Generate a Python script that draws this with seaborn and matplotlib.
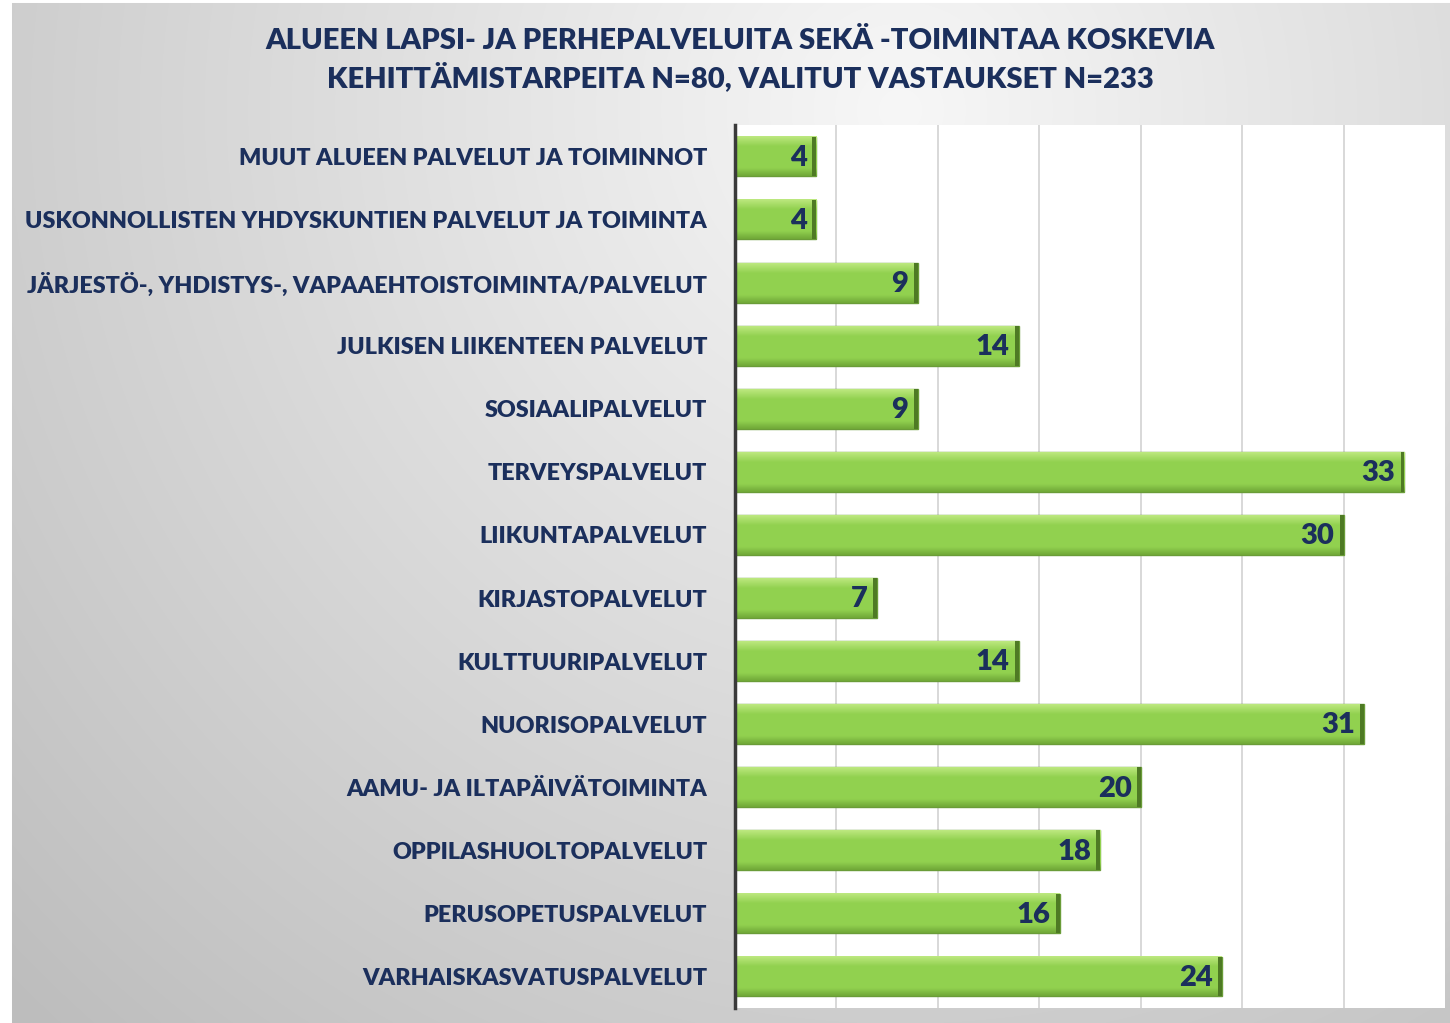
import numpy as np
import pandas as pd
import matplotlib
matplotlib.use("Agg")
import matplotlib.pyplot as plt
import seaborn as sns

# Data (top to bottom)
categories = [
    "MUUT ALUEEN PALVELUT JA TOIMINNOT",
    "USKONNOLLISTEN YHDYSKUNTIEN PALVELUT JA TOIMINTA",
    "JÄRJESTÖ-, YHDISTYS-, VAPAAEHTOISTOIMINTA/PALVELUT",
    "JULKISEN LIIKENTEEN PALVELUT",
    "SOSIAALIPALVELUT",
    "TERVEYSPALVELUT",
    "LIIKUNTAPALVELUT",
    "KIRJASTOPALVELUT",
    "KULTTUURIPALVELUT",
    "NUORISOPALVELUT",
    "AAMU- JA ILTAPÄIVÄTOIMINTA",
    "OPPILASHUOLTOPALVELUT",
    "PERUSOPETUSPALVELUT",
    "VARHAISKASVATUSPALVELUT",
]
counts = [4, 4, 9, 14, 9, 33, 30, 7, 14, 31, 20, 18, 16, 24]
title_lines = [
    "ALUEEN LAPSI- JA PERHEPALVELUITA SEKÄ -TOIMINTAA KOSKEVIA",
    "KEHITTÄMISTARPEITA N=80, VALITUT VASTAUKSET N=233",
]

df = pd.DataFrame({"palvelu": categories, "lkm": counts})

sns.set_theme(style="white")
plt.rcParams["font.family"] = ["Lato", "DejaVu Sans"]
navy = "#1b2f5c"

W, H = 1450, 1023
fig = plt.figure(figsize=(W / 100, H / 100), dpi=100)

# grey slide background, lighter towards the title
bg = fig.add_axes([0, 0, 1, 1], zorder=-10)
yy, xx = np.mgrid[0:H, 0:W]
d = np.hypot(xx - 900, (yy - 110) * 1.0)
shade = np.clip(247 - 0.046 * d, 190, 250) / 255.0
shade[:, :12] = 1.0
shade[:3, :] = 1.0
bg.imshow(np.dstack([shade] * 3), aspect="auto", extent=[0, 1, 0, 1])
bg.axis("off")

ax = fig.add_axes([735 / W, 1 - 1008 / H, (1445 - 735) / W, (1008 - 125) / H])
ax.set_facecolor("white")

sns.barplot(data=df, x="lkm", y="palvelu", orient="h", color="#92d050",
            width=0.63, saturation=1, edgecolor="#6a9c38", linewidth=1,
            ax=ax, zorder=2)

ax.set_xlim(0, 35)
ax.set_xticks(range(5, 35, 5))
ax.xaxis.grid(True, color="#d6d6d6", linewidth=1.3)
ax.set_axisbelow(True)
ax.set_xticklabels([])
ax.set_xlabel("")
ax.set_ylabel("")
for s in ["top", "right", "bottom"]:
    ax.spines[s].set_visible(False)
ax.spines["left"].set_color("#3a3a3a")
ax.spines["left"].set_linewidth(2.5)
ax.spines["left"].set_zorder(5)
ax.tick_params(axis="y", length=0, pad=20)
ax.tick_params(axis="x", length=0)
for lbl in ax.get_yticklabels():
    lbl.set_fontsize(16.8)
    lbl.set_fontweight("heavy")
    lbl.set_color(navy)

# shiny gradient on each bar + darker end cap, based on the drawn patches
grad = np.linspace(0, 1, 64)
light = np.array([0.74, 0.91, 0.50])
mid = np.array([0.57, 0.82, 0.31])
dark = np.array([0.44, 0.66, 0.22])
rows = []
for t in grad:
    if t < 0.25:
        c = light + (mid - light) * (t / 0.25)
    elif t < 0.8:
        c = mid
    else:
        c = mid + (dark - mid) * ((t - 0.8) / 0.2)
    rows.append(c)
gimg = np.array(rows)[:, None, :]
for p, v in zip(ax.patches, counts):
    x0, y0 = p.get_x(), p.get_y()
    w, h = p.get_width(), p.get_height()
    ax.imshow(gimg, aspect="auto", extent=[x0, x0 + w, y0 + h, y0],
              zorder=2.5, clip_on=True)
    ax.add_patch(plt.Rectangle((x0 + w - 0.18, y0), 0.18, h,
                               color="#4e7a24", zorder=2.7, lw=0))
    ax.text(x0 + w - 0.45, y0 + h / 2 + 0.02, str(v), ha="right", va="center",
            fontsize=21, fontweight="heavy", color=navy, zorder=3)

ax.set_ylim(len(categories) - 0.5, -0.5)

fig.text(740 / W, 1 - 60 / H, "\n".join(title_lines), ha="center", va="center",
         fontsize=21, fontweight="heavy", color=navy, linespacing=1.35)

fig.savefig("out.png", dpi=100)
